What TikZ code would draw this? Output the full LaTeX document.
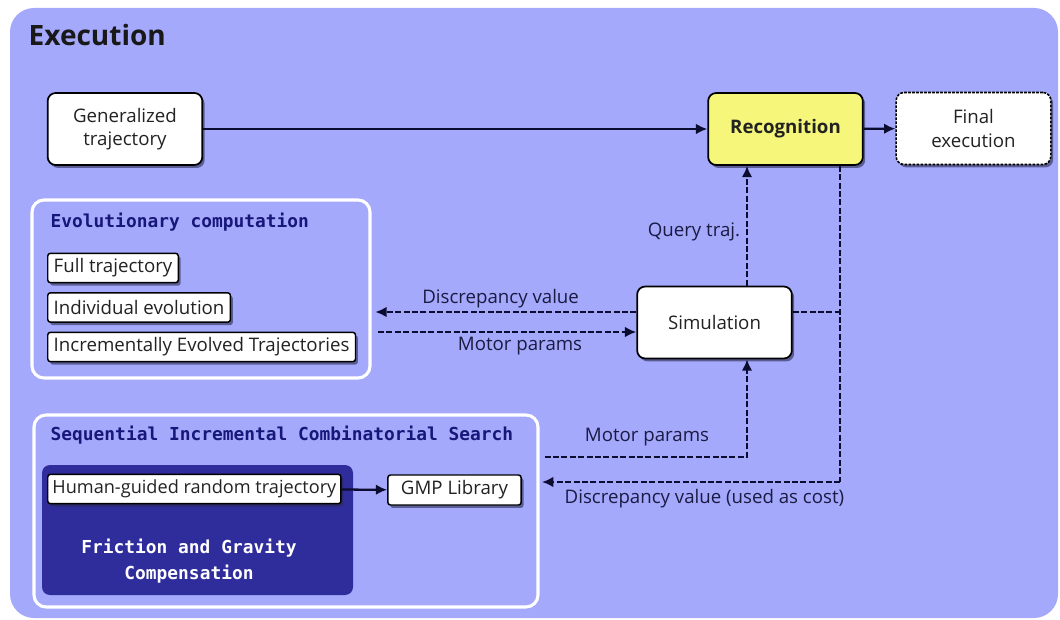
\documentclass[tikz,border=0pt]{standalone}
\usepackage{fontspec}
\setmainfont{Open Sans}
\newfontfamily\headmono{DejaVu Sans Mono}
\usetikzlibrary{arrows.meta,shadows,calc}
\definecolor{bgc}{HTML}{A4A9FC}
\definecolor{yelc}{HTML}{F5F67A}
\definecolor{darkc}{HTML}{2F2C9C}
\definecolor{headc}{HTML}{17177A}
\definecolor{labc}{HTML}{1A1A42}
\definecolor{linec}{HTML}{0C0C30}
\definecolor{txtc}{HTML}{222222}
\definecolor{shadc}{HTML}{2A2A50}
\tikzset{
  shad/.style={drop shadow={shadow xshift=1.8pt, shadow yshift=-2.2pt, opacity=.6, fill=shadc}},
  bigbox/.style={draw=black, line width=1.3pt, fill=white, rounded corners=6pt, align=center,
    text=txtc, font=\fontsize{14}{17.5}\selectfont, minimum width=116pt, minimum height=54pt, shad},
  smallbox/.style={draw=black, line width=1.1pt, fill=white, rounded corners=2pt, anchor=west,
    text=txtc, font=\fontsize{14}{16}\selectfont, inner xsep=4.5pt, inner ysep=0pt,
    minimum height=22pt, shad},
  groupbox/.style={draw=white, line width=2.3pt, rounded corners=9pt},
  headtxt/.style={anchor=west, text=headc, font=\headmono\bfseries\fontsize{13.4}{16}\selectfont},
  lbl/.style={text=labc, font=\fontsize{14}{16}\selectfont},
  conn/.style={draw=linec, line width=1.7pt},
  dconn/.style={conn, dash pattern=on 4.5pt off 1.8pt},
  tip/.style={-{Latex[length=8.5pt,width=8pt]}}
}
\begin{document}
\begin{tikzpicture}[x=0.75pt,y=-0.75pt]
\useasboundingbox (0,0) rectangle (1060,620);
\fill[white] (0,0) rectangle (1060,620);
\fill[bgc, rounded corners=18pt] (10,8) rectangle (1058,618);
\node[anchor=west, text=black!90, font=\bfseries\fontsize{21}{25}\selectfont] (title) at (24,35) {Execution};

% top row
\node[bigbox] (gen) at (125,129) {Generalized\\trajectory};
\node[bigbox, fill=yelc, font=\bfseries\fontsize{14}{17}\selectfont] (recog) at (785.5,129) {Recognition};
\node[bigbox, dash pattern=on 2pt off 1pt, line width=1.2pt] (final) at (973.5,128.5) {Final\\execution};

% evolutionary group
\draw[groupbox] (32,200) rectangle (370,378);
\coordinate (evoE) at (370,290);
\node[headtxt] (evoT) at (46,222) {Evolutionary computation};
\node[smallbox] (full) at (47,268) {Full trajectory};
\node[smallbox] (indiv) at (47,307.5) {Individual evolution};
\node[smallbox] (incr) at (47,347) {Incrementally Evolved Trajectories};

% simulation
\node[bigbox] (sim) at (714.5,322.5) {Simulation};

% SICS group
\draw[groupbox] (34,415) rectangle (538,607);
\coordinate (sicsE) at (538,500);
\node[headtxt] (sicsT) at (46,435) {Sequential Incremental Combinatorial Search};
\fill[darkc, rounded corners=6pt] (42,465) rectangle (353,595);
\node[smallbox, font=\fontsize{13.6}{16}\selectfont, inner xsep=3.5pt] (human) at (47,489) {Human-guided random trajectory};
\node[smallbox, anchor=center, minimum height=22.5pt, minimum width=100pt] (gmp) at (454.5,490) {GMP Library};
\node[align=center, text=white, font=\headmono\bfseries\fontsize{13.4}{20}\selectfont] (fric) at (189,561) {Friction and Gravity\\Compensation};

% helper coordinates
\coordinate (qx) at (747,0);
\coordinate (rx) at (840,0);
\coordinate (dv) at (0,312);
\coordinate (mp) at (0,332);
\coordinate (mpb) at (0,457);
\coordinate (cost) at (0,482);

% connectors
\draw[conn, tip] (gen) -- (recog);
\draw[conn, tip] (recog) -- (final);
\draw[dconn, tip] (sim.north -| qx) -- (recog.south -| qx)
  node[lbl, pos=0.45, anchor=east, xshift=-1pt] {Query traj.};
\draw[dconn] (recog.south -| rx) -- (rx |- cost);
\draw[dconn, tip] (rx |- cost) -- ([xshift=3pt]sicsE |- cost)
  node[lbl, pos=0.455, below, yshift=-1pt] {Discrepancy value (used as cost)};
\draw[dconn] (sim.east |- dv) -- (rx |- dv);
\draw[dconn, tip] (sim.west |- dv) -- ([xshift=4pt]evoE |- dv)
  node[lbl, pos=0.52, above, yshift=-1pt] {Discrepancy value};
\draw[dconn, tip] ([xshift=6pt]evoE |- mp) -- (sim.west |- mp)
  node[lbl, pos=0.55, below, yshift=0pt] {Motor params};
\draw[dconn, tip] ([xshift=5pt]sicsE |- mpb) -- (qx |- mpb) -- (sim.south -| qx);
\node[lbl, anchor=south] (mplbl) at (647,451) {Motor params};
\draw[conn, tip] (human) -- (gmp);
\end{tikzpicture}
\end{document}
